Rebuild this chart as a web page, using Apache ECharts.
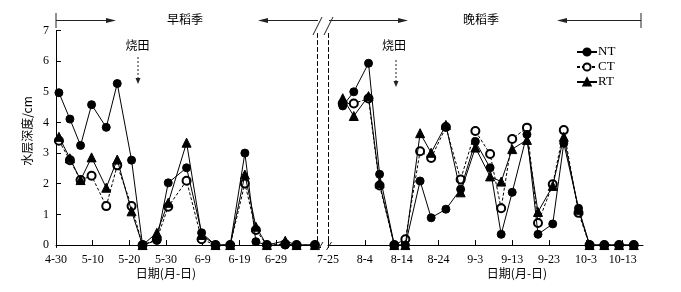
<!DOCTYPE html>
<html><head><meta charset="utf-8">
<script src="https://cdn.jsdelivr.net/npm/echarts@6/dist/echarts.min.js"></script>
<style>html,body{margin:0;padding:0;background:#fff}#c{width:681px;height:292px}</style>
</head><body><div id="c"></div>
<script>
// x values: days counted from 4-30 (day 0)
var earlyDays = [0.8, 3.8, 6.7, 9.7, 13.7, 16.7, 20.6, 23.6, 27.5, 30.6, 35.6, 39.7, 43.5, 47.5, 51.5, 54.5, 57.5, 62.5, 65.6, 70.6];
var earlyNT = [4.97, 4.11, 3.25, 4.58, 3.84, 5.27, 2.77, 0, 0.15, 2.03, 2.52, 0.40, 0, 0, 3.00, 0.11, 0, 0, 0, 0];
var earlyCT = [3.40, 2.77, 2.12, 2.26, 1.27, 2.60, 1.27, 0, 0.19, 1.25, 2.10, 0.19, 0, 0, 2.01, 0.49, 0, 0.03, 0, 0];
var earlyRT = [3.53, 2.83, 2.12, 2.86, 1.87, 2.79, 1.10, 0, 0.40, 1.38, 3.34, 0.33, 0, 0, 2.30, 0.60, 0, 0.14, 0, 0];

var lateDays = [90, 93, 97, 100, 104, 107, 111, 114, 118, 122, 126, 130, 133, 136, 140, 143, 147, 150, 154, 157, 161, 165, 169];
var lateNT = [4.54, 5.00, 5.93, 2.31, 0, 0, 2.09, 0.89, 1.17, 1.82, 3.38, 2.52, 0.35, 1.72, 3.61, 0.35, 0.69, 3.32, 1.20, 0, 0, 0, 0];
var lateCT = [4.62, 4.62, 4.78, 1.94, 0, 0.19, 3.06, 2.84, 3.85, 2.14, 3.72, 2.97, 1.20, 3.46, 3.83, 0.72, 1.98, 3.75, 1.05, 0, 0, 0, 0];
var lateRT = [4.79, 4.21, 4.86, 2.01, 0, 0, 3.65, 3.01, 3.92, 1.72, 3.18, 2.24, 2.07, 3.13, 3.43, 1.08, 1.93, 3.53, 1.15, 0, 0, 0, 0];

var earlyTickDays = [0, 10, 20, 30, 40, 50, 60];
var earlyTickLabels = ['4-30', '5-10', '5-20', '5-30', '6-9', '6-19', '6-29'];
var lateTickDays = [86, 96, 106, 116, 126, 136, 146, 156, 166];
var lateTickLabels = ['7-25', '8-4', '8-14', '8-24', '9-3', '9-13', '9-23', '10-3', '10-13'];
var yTicks = [0, 1, 2, 3, 4, 5, 6, 7];

function pairs(xs, ys) { return xs.map(function (x, i) { return [x, ys[i]]; }); }
function fmt(days, labels) {
  return function (v) { var i = days.indexOf(Math.round(v)); return i >= 0 ? labels[i] : ''; };
}

var serif = 'Liberation Serif';
var black = '#000';

function xAxisCfg(gridIndex, min, max, days, labels) {
  return {
    type: 'value', gridIndex: gridIndex, min: min, max: max,
    axisLine: { show: true, lineStyle: { color: black, width: 1 } },
    axisTick: { show: true, inside: true, length: 5, customValues: days, lineStyle: { color: black } },
    axisLabel: { customValues: days, formatter: fmt(days, labels), color: black, fontFamily: serif, fontSize: 12, margin: 6 },
    splitLine: { show: false }
  };
}

function mk(name, xi, data, symbol, size, dashed) {
  return {
    name: name, type: 'line', xAxisIndex: xi, yAxisIndex: xi, data: data,
    symbol: symbol, symbolSize: size, showAllSymbol: true,
    lineStyle: { color: black, width: 1, type: dashed ? [3, 2] : 'solid' },
    itemStyle: { color: black, borderColor: black, borderWidth: 1 },
    emphasis: { disabled: true }, z: name === 'CT' ? 2 : 3
  };
}

var chart = echarts.init(document.getElementById('c'), null, { renderer: 'canvas' });
var G = function (o) { return Object.assign({ silent: true, z: 10 }, o); };
var stroke = { stroke: '#222', lineWidth: 1 };
var cjkFont = '12px "Noto Sans CJK SC"';

chart.setOption({
  animation: false,
  backgroundColor: '#fff',
  grid: [
    { left: 56, right: 681 - 317.5, top: 30.5, bottom: 44.5 },
    { left: 328, right: 38, top: 30.5, bottom: 44.5 }
  ],
  xAxis: [
    xAxisCfg(0, 0, 71.3, earlyTickDays, earlyTickLabels),
    xAxisCfg(1, 86, 171.5, lateTickDays, lateTickLabels)
  ],
  yAxis: [
    { type: 'value', gridIndex: 0, min: -0.08, max: 7,
      axisLine: { show: true, lineStyle: { color: black } },
      axisTick: { show: true, inside: true, length: 5, customValues: yTicks, lineStyle: { color: black } },
      axisLabel: { customValues: yTicks, color: black, fontFamily: serif, fontSize: 12, margin: 7 },
      splitLine: { show: false } },
    { type: 'value', gridIndex: 1, min: -0.08, max: 7,
      axisLine: { show: true, lineStyle: { color: black, type: [4, 3] } },
      axisTick: { show: false }, axisLabel: { show: false }, splitLine: { show: false } },
    { type: 'value', gridIndex: 0, min: -0.08, max: 7, position: 'right',
      axisLine: { show: true, lineStyle: { color: black, type: [4, 3] } },
      axisTick: { show: false }, axisLabel: { show: false }, splitLine: { show: false } }
  ],
  legend: {
    data: ['NT', 'CT', 'RT'], orient: 'vertical', left: 576, top: 44.5,
    itemWidth: 20, itemHeight: 9, itemGap: 0, selectedMode: false, padding: 0,
    textStyle: { color: black, fontFamily: serif, fontSize: 13, lineHeight: 15, padding: [0, 0, 0, -4] }
  },
  series: [
    mk('CT', 0, pairs(earlyDays, earlyCT), 'emptyCircle', 8, true),
    mk('RT', 0, pairs(earlyDays, earlyRT), 'triangle', 9, false),
    mk('NT', 0, pairs(earlyDays, earlyNT), 'circle', 8, false),
    mk('CT', 1, pairs(lateDays, lateCT), 'emptyCircle', 8, true),
    mk('RT', 1, pairs(lateDays, lateRT), 'triangle', 9, false),
    mk('NT', 1, pairs(lateDays, lateNT), 'circle', 8, false)
  ],
  graphic: [
    // season bars
    G({ type: 'line', shape: { x1: 56, y1: 13, x2: 56, y2: 28 }, style: stroke }),
    G({ type: 'line', shape: { x1: 56, y1: 20.5, x2: 108, y2: 20.5 }, style: stroke }),
    G({ type: 'polygon', shape: { points: [[106, 18], [116, 20.5], [106, 23]] }, style: { fill: '#222' } }),
    G({ type: 'polygon', shape: { points: [[268, 18], [258, 20.5], [268, 23]] }, style: { fill: '#222' } }),
    G({ type: 'line', shape: { x1: 266, y1: 20.5, x2: 318, y2: 20.5 }, style: stroke }),
    G({ type: 'line', shape: { x1: 313, y1: 35, x2: 322, y2: 17 }, style: stroke }),
    G({ type: 'line', shape: { x1: 324, y1: 35, x2: 333, y2: 17 }, style: stroke }),
    G({ type: 'line', shape: { x1: 329, y1: 20.5, x2: 400, y2: 20.5 }, style: stroke }),
    G({ type: 'polygon', shape: { points: [[398, 18], [408, 20.5], [398, 23]] }, style: { fill: '#222' } }),
    G({ type: 'polygon', shape: { points: [[567, 18], [557, 20.5], [567, 23]] }, style: { fill: '#222' } }),
    G({ type: 'line', shape: { x1: 565, y1: 20.5, x2: 641, y2: 20.5 }, style: stroke }),
    G({ type: 'line', shape: { x1: 641, y1: 13, x2: 641, y2: 28 }, style: stroke }),
    G({ type: 'text', x: 185, y: 19, style: { text: '早稻季', fill: black, font: cjkFont, align: 'center', verticalAlign: 'middle' } }),
    G({ type: 'text', x: 481, y: 19, style: { text: '晚稻季', fill: black, font: cjkFont, align: 'center', verticalAlign: 'middle' } }),
    // burning annotations
    G({ type: 'text', x: 137.5, y: 45, style: { text: '烧田', fill: black, font: cjkFont, align: 'center', verticalAlign: 'middle' } }),
    G({ type: 'line', shape: { x1: 138, y1: 57, x2: 138, y2: 80 }, style: { stroke: '#222', lineWidth: 1, lineDash: [2, 2] } }),
    G({ type: 'polygon', shape: { points: [[135.5, 78], [138, 84], [140.5, 78]] }, style: { fill: '#222' } }),
    G({ type: 'text', x: 394, y: 45, style: { text: '烧田', fill: black, font: cjkFont, align: 'center', verticalAlign: 'middle' } }),
    G({ type: 'line', shape: { x1: 396, y1: 60, x2: 396, y2: 83 }, style: { stroke: '#222', lineWidth: 1, lineDash: [2, 2] } }),
    G({ type: 'polygon', shape: { points: [[393.5, 81], [396, 87], [398.5, 81]] }, style: { fill: '#222' } }),
    // axis breaks
    G({ type: 'line', shape: { x1: 317.5, y1: 247.5, x2: 321, y2: 247.5 }, style: { stroke: black, lineWidth: 1 } }),
    G({ type: 'line', shape: { x1: 318, y1: 250, x2: 323, y2: 242 }, style: stroke }),
    G({ type: 'line', shape: { x1: 326.5, y1: 250, x2: 331.5, y2: 242 }, style: stroke }),
    // axis titles
    G({ type: 'text', x: 27, y: 131, rotation: Math.PI / 2, style: { text: '水层深度/cm', fill: black, font: cjkFont, align: 'center', verticalAlign: 'middle' } }),
    G({ type: 'text', x: 166, y: 273, style: { text: '日期(月-日)', fill: black, font: cjkFont, align: 'center', verticalAlign: 'middle' } }),
    G({ type: 'text', x: 517, y: 273, style: { text: '日期(月-日)', fill: black, font: cjkFont, align: 'center', verticalAlign: 'middle' } })
  ]
});
</script></body></html>
